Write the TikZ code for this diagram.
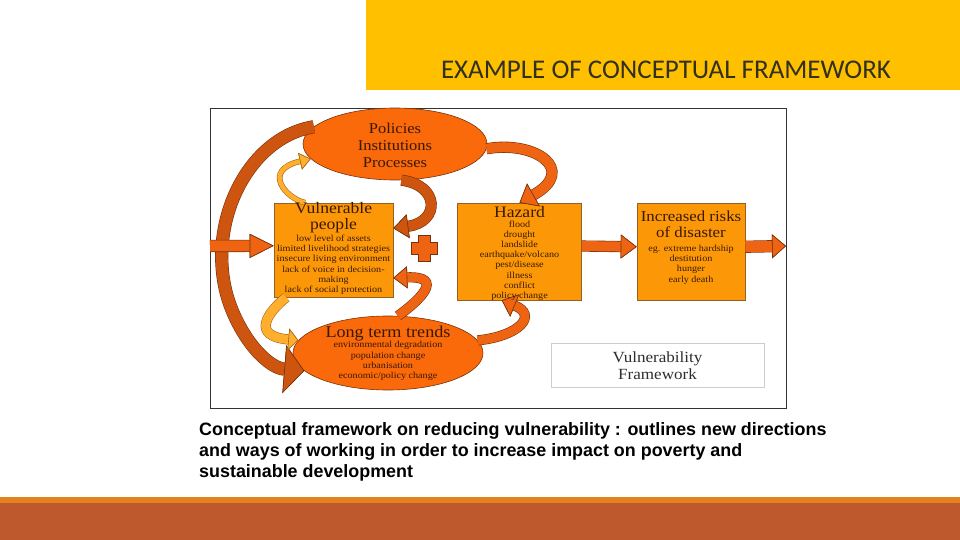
\documentclass[tikz,border=0pt]{standalone}
\usepackage{fontspec}
\setmainfont{Liberation Serif}[FakeStretch=1.1]
\newfontfamily\titlefont{Carlito}
\newfontfamily\capfont{Liberation Sans}
\usetikzlibrary{arrows.meta,positioning,shapes.geometric,calc}
\definecolor{banner}{RGB}{255,192,0}
\definecolor{titlegray}{RGB}{50,48,30}
\definecolor{stripe}{RGB}{227,130,30}
\definecolor{rust}{RGB}{190,88,45}
\definecolor{ovalfill}{RGB}{250,105,10}
\definecolor{boxfill}{RGB}{252,152,8}
\definecolor{boxedge}{RGB}{150,95,35}
\definecolor{inktext}{RGB}{55,25,5}
\definecolor{ribbon}{RGB}{238,100,18}
\definecolor{deepribbon}{RGB}{205,85,15}
\definecolor{ribbonedge}{RGB}{120,50,10}
\definecolor{paleribbon}{RGB}{255,175,45}
\definecolor{paleedge}{RGB}{165,105,20}
\definecolor{lightframe}{RGB}{205,205,205}
\definecolor{vftext}{RGB}{45,45,45}

\tikzset{
  oval/.style={ellipse, fill=ovalfill, draw=ribbonedge, line width=0.6pt, inner sep=0pt},
  factorbox/.style={rectangle, fill=boxfill, draw=boxedge, line width=0.6pt, inner sep=0pt},
  headtext/.style={inner sep=0pt, align=center, text=inktext, anchor=north},
  listtext/.style={inner sep=0pt, align=center, text=inktext, anchor=north, font=\fontsize{9.2}{10.2}\selectfont},
  titletext/.style={inner sep=0pt, anchor=base, text=titlegray, font=\titlefont\fontsize{27}{27}\selectfont}
}

% #1 fill, #2 edge, #3 shaft width, #4 head size, #5 path
\newcommand{\ribbon}[5]{%
  \draw[#2, line width=#3+1.2pt, -{Triangle[#4, line width=0.8pt, fill=#2]}] #5;
  \draw[#1, line width=#3, -{Triangle[#4, line width=0.6pt, color=#2, fill=#1]}] #5;
}

\begin{document}
\begin{tikzpicture}[x=1pt, y=-1pt]
  \useasboundingbox (0,0) rectangle (960,540);
  % slide
  \fill[banner] (366,0) rectangle (960,90);
  \fill[stripe] (0,497) rectangle (960,503);
  \fill[rust] (0,503) rectangle (960,540);
  \node[titletext] (title) at (666,79) {EXAMPLE OF CONCEPTUAL FRAMEWORK};

  % framework picture
  \node[draw=black!80, line width=0.6pt, minimum width=576pt, minimum height=300pt, inner sep=0pt] (frame) at (498,258) {};
  \coordinate (inflow) at (210,246);
  \coordinate (outflow) at (786,246);

  \node[oval, minimum width=184pt, minimum height=72pt] (policies) at (395,144) {};
  \node[oval, minimum width=190pt, minimum height=74pt] (trends) at (388,353) {};
  \node[factorbox, minimum width=119pt, minimum height=94pt] (vulnerable) at (333.5,250) {};
  \node[factorbox, minimum width=124pt, minimum height=97pt] (hazard) at (519.5,251.5) {};
  \node[factorbox, minimum width=108pt, minimum height=97pt] (risks) at (691,251.5) {};
  \node[draw=lightframe, fill=white, minimum width=213pt, minimum height=44pt, inner sep=0pt] (vframe) at (657.5,365) {};

  \draw[fill=ribbon, draw=ribbonedge, line width=0.6pt, shift={(424.5,248.5)}]
    (-6,-13) -- (6,-13) -- (6,-6) -- (13,-6) -- (13,6) -- (6,6) -- (6,13) -- (-6,13)
    -- (-6,6) -- (-13,6) -- (-13,-6) -- (-6,-6) -- cycle;

  % curved arrows
  \ribbon{deepribbon}{ribbonedge}{12pt}{length=20pt, width=48pt}{(policies.168) .. controls (245,138) and (203,230) .. (230,305) .. controls (245,345) and (270,368) .. (trends.192)}
  \ribbon{paleribbon}{paleedge}{4.5pt}{length=11pt, width=17pt}{(vulnerable.121) .. controls (285,198) and (262,170) .. (policies.190)}
  \ribbon{deepribbon}{ribbonedge}{10pt}{length=15pt, width=24pt}{(policies.-80) .. controls (440,185) and (440,222) .. (vulnerable.20)}
  \ribbon{ribbon}{ribbonedge}{10pt}{length=16pt, width=26pt}{(policies.-3) .. controls (535,140) and (578,170) .. (hazard.north)}
  \ribbon{paleribbon}{paleedge}{9pt}{length=10pt, width=22pt}{(vulnerable.225) .. controls (268,312) and (250,336) .. (trends.172)}
  \ribbon{ribbon}{ribbonedge}{9pt}{length=14pt, width=22pt}{(trends.75) .. controls (420,300) and (445,276) .. (vulnerable.-25)}
  \ribbon{ribbon}{ribbonedge}{9pt}{length=14pt, width=24pt}{(trends.8) .. controls (520,336) and (538,315) .. (hazard.-110)}

  % straight arrows
  \ribbon{ribbon}{ribbonedge}{11pt}{length=24pt, width=24pt}{(inflow) -- (vulnerable.176)}
  \ribbon{ribbon}{ribbonedge}{10pt}{length=16pt, width=24pt}{(hazard.5) -- (risks.175)}
  \ribbon{ribbon}{ribbonedge}{11pt}{length=14pt, width=24pt}{(risks.5) -- (outflow)}

  % texts
  \node[headtext, font=\fontsize{15}{17}\selectfont] (policiestext) at (395,122.8) {Policies\\Institutions\\Processes};
  \node[headtext, font=\fontsize{16}{16}\selectfont] (vulnerablehead) at (333.5,202.1) {Vulnerable\\people};
  \node[listtext] (vulnerablelist) at (333.5,234.9) {low level of assets\\limited livelihood strategies\\insecure living environment\\lack of voice in decision-\\making\\lack of social protection};
  \node[headtext, font=\fontsize{16}{16}\selectfont] (hazardhead) at (519.5,206.3) {Hazard};
  \node[listtext] (hazardlist) at (519.5,220.4) {flood\\drought\\landslide\\earthquake/volcano\\pest/disease\\illness\\conflict\\policy change};
  \node[headtext, font=\fontsize{15.3}{16}\selectfont] (riskshead) at (691,210.5) {Increased risks\\of disaster};
  \node[listtext] (riskslist) at (691,244.9) {eg. extreme hardship\\destitution\\hunger\\early death};
  \node[headtext, font=\fontsize{16.5}{16}\selectfont] (trendshead) at (388,325.7) {Long term trends};
  \node[listtext, font=\fontsize{9.2}{10.3}\selectfont] (trendslist) at (388,341.4) {environmental degradation\\population change\\urbanisation\\economic/policy change};
  \node[headtext, text=vftext, font=\fontsize{15.5}{17}\selectfont] (vframetext) at (657.5,351.4) {Vulnerability\\Framework};

  \node[anchor=north west, inner sep=0pt, align=left, font=\capfont\bfseries\fontsize{17.9}{21}\selectfont] (caption) at (199,422.2)
    {Conceptual framework on reducing vulnerability : outlines new directions\\and ways of working in order to increase impact on poverty and\\sustainable development};
\end{tikzpicture}
\end{document}
